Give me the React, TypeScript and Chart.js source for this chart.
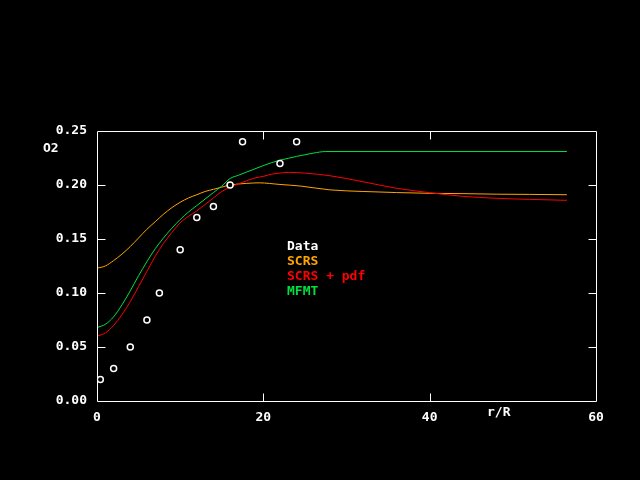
import React, { useEffect, useRef } from "react";
import { Chart, registerables } from "chart.js";

Chart.register(...registerables);

const dataX = [0.4, 2, 4, 6, 7.5, 10, 12, 14, 16, 17.5, 22, 24];
const dataY = [0.02, 0.03, 0.05, 0.075, 0.1, 0.14, 0.17, 0.18, 0.2, 0.24, 0.22, 0.24];

const scrsX = [0, 1, 2, 3, 4, 5, 6, 7, 8, 9, 10, 11, 12, 13, 14, 15, 16, 18, 19.5, 22, 24.5, 28, 32, 36, 40, 44, 48, 52, 56.5];
const scrsY = [0.123, 0.125, 0.13, 0.136, 0.143, 0.151, 0.159, 0.166, 0.173, 0.179, 0.184, 0.188, 0.191, 0.194, 0.196, 0.198, 0.2, 0.2015, 0.202, 0.2005, 0.199, 0.1955, 0.194, 0.193, 0.1923, 0.192, 0.1915, 0.1913, 0.191];

const pdfX = [0, 1, 2, 3, 4, 5, 6, 7, 8, 9, 10, 11, 12, 13, 14, 15, 16, 17, 18, 19, 20, 21, 22, 23, 24, 25, 28, 32, 36, 40, 44, 48, 52, 56.5];
const pdfY = [0.06, 0.063, 0.07, 0.08, 0.092, 0.106, 0.12, 0.134, 0.146, 0.156, 0.165, 0.171, 0.176, 0.182, 0.188, 0.194, 0.198, 0.201, 0.204, 0.2065, 0.208, 0.21, 0.211, 0.2117, 0.2115, 0.211, 0.2086, 0.203, 0.197, 0.1929, 0.1895, 0.1877, 0.1867, 0.1858];

const mfmtX = [0, 1, 2, 3, 4, 5, 6, 7, 8, 9, 10, 11, 12, 13, 14, 15, 16, 17, 18, 19, 20, 21, 22, 23, 24, 25, 26, 27.5, 56.5];
const mfmtY = [0.068, 0.071, 0.078, 0.089, 0.102, 0.116, 0.129, 0.141, 0.151, 0.16, 0.168, 0.175, 0.181, 0.187, 0.193, 0.199, 0.206, 0.209, 0.212, 0.215, 0.218, 0.2207, 0.223, 0.2247, 0.2265, 0.228, 0.2295, 0.231, 0.231];

const xTicks = [0, 20, 40, 60];
const yTicks = [0, 0.05, 0.1, 0.15, 0.2, 0.25];

const FONT = "DejaVu Sans Mono";
const ORANGE = "#ffa500";
const RED = "#ff0000";
const GREEN = "#00e040";

const pts = (xs: number[], ys: number[]) => xs.map((x, i) => ({ x, y: ys[i] }));

export default function App() {
  const ref = useRef<HTMLCanvasElement | null>(null);
  useEffect(() => {
    document.body.style.margin = "0";
    document.body.style.background = "#000";
    const canvas = ref.current!;
    const bg = {
      id: "bg",
      beforeDraw(chart: any) {
        const c = chart.ctx;
        c.save();
        c.fillStyle = "#000";
        c.fillRect(0, 0, chart.width, chart.height);
        c.restore();
      },
    };
    const frame = {
      id: "frame",
      afterDatasetsDraw(chart: any) {
        const c = chart.ctx;
        const a = chart.chartArea;
        const xs = chart.scales.x;
        const ys = chart.scales.y;
        const L = Math.round(a.left) + 0.5;
        const R = Math.round(a.right) + 0.5;
        const T = Math.round(a.top) + 0.5;
        const B = Math.round(a.bottom) + 0.5;
        c.save();
        c.strokeStyle = "#fff";
        c.lineWidth = 1;
        c.beginPath();
        c.rect(L, T, R - L, B - T);
        xTicks.slice(1, -1).forEach((v) => {
          const px = Math.round(xs.getPixelForValue(v)) + 0.5;
          c.moveTo(px, B);
          c.lineTo(px, B - 8);
          c.moveTo(px, T);
          c.lineTo(px, T + 8);
        });
        yTicks.slice(1, -1).forEach((v) => {
          const py = Math.round(ys.getPixelForValue(v)) + 0.5;
          c.moveTo(L, py);
          c.lineTo(L + 8, py);
          c.moveTo(R, py);
          c.lineTo(R - 8, py);
        });
        c.stroke();
        c.font = `bold 13px "${FONT}"`;
        c.textBaseline = "middle";
        c.textAlign = "left";
        c.fillStyle = "#fff";
        c.fillText("O2", 43, 149);
        c.fillText("r/R", 487, 413);
        const labels = chart.data.datasets.map((d: any) => d.label);
        const colors = ["#fff", ORANGE, RED, GREEN];
        labels.forEach((t: string, i: number) => {
          c.fillStyle = colors[i];
          c.fillText(t, 287, 247 + i * 15);
        });
        c.restore();
      },
    };
    const chart = new Chart(canvas, {
      type: "scatter",
      data: {
        datasets: [
          {
            label: "Data",
            data: pts(dataX, dataY),
            showLine: false,
            pointRadius: 3,
            pointBorderWidth: 1.5,
            pointBorderColor: "#fff",
            pointBackgroundColor: "#000",
            order: 0,
          },
          {
            label: "SCRS",
            data: pts(scrsX, scrsY),
            showLine: true,
            borderColor: ORANGE,
            borderWidth: 1,
            pointRadius: 0,
            cubicInterpolationMode: "monotone",
            order: 3,
          },
          {
            label: "SCRS + pdf",
            data: pts(pdfX, pdfY),
            showLine: true,
            borderColor: RED,
            borderWidth: 1,
            pointRadius: 0,
            cubicInterpolationMode: "monotone",
            order: 2,
          },
          {
            label: "MFMT",
            data: pts(mfmtX, mfmtY),
            showLine: true,
            borderColor: GREEN,
            borderWidth: 1,
            pointRadius: 0,
            cubicInterpolationMode: "monotone",
            order: 1,
          },
        ],
      } as any,
      options: {
        animation: false,
        responsive: false,
        layout: { padding: { top: 131, right: 44, left: 0, bottom: 0 } },
        plugins: { legend: { display: false }, tooltip: { enabled: false } },
        scales: {
          x: {
            type: "linear",
            min: 0,
            max: 60,
            afterFit: (s: any) => {
              s.height = 79;
            },
            afterBuildTicks: (s: any) => {
              s.ticks = xTicks.map((v) => ({ value: v }));
            },
            grid: { display: false },
            border: { display: false },
            ticks: {
              color: "#fff",
              font: { family: FONT, size: 13, weight: "bold" },
              padding: 1,
              maxRotation: 0,
            },
          },
          y: {
            type: "linear",
            min: 0,
            max: 0.25,
            afterFit: (s: any) => {
              s.width = 97;
            },
            afterBuildTicks: (s: any) => {
              s.ticks = yTicks.map((v) => ({ value: v }));
            },
            grid: { display: false },
            border: { display: false },
            ticks: {
              color: "#fff",
              font: { family: FONT, size: 13, weight: "bold" },
              padding: 2,
              callback: (v: any) => Number(v).toFixed(2),
            },
          },
        },
      } as any,
      plugins: [bg, frame],
    });
    return () => chart.destroy();
  }, []);
  return (
    <div style={{ width: 640, height: 480, background: "#000" }}>
      <canvas ref={ref} width={640} height={480} style={{ display: "block" }} />
    </div>
  );
}
